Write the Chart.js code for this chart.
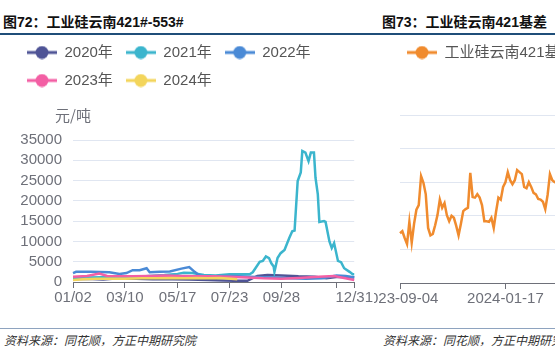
<!DOCTYPE html>
<html><head><meta charset="utf-8">
<script src="https://cdn.jsdelivr.net/npm/chart.js@4/dist/chart.umd.min.js"></script>
<style>
html,body{margin:0;padding:0;width:555px;height:353px;overflow:hidden;background:#fff;}
#wrap{position:relative;width:555px;height:353px;overflow:hidden;font-family:"Liberation Sans","Noto Sans CJK SC",sans-serif;}
#leftPane{position:absolute;left:0;top:0;width:374px;height:353px;background:#fff;z-index:2;}
.title{position:absolute;top:14px;font-size:14px;font-weight:bold;line-height:16px;color:#111;white-space:nowrap;}
.src{position:absolute;top:333px;font-size:12px;font-style:italic;line-height:14px;color:#333;white-space:nowrap;font-family:"Noto Sans CJK SC",sans-serif;}
.rule{position:absolute;left:0;width:555px;z-index:3;}
canvas{position:absolute;}
</style></head>
<body><div id="wrap">
<div id="leftPane">
  <div class="title" style="left:3px">图72：工业硅云南421#-553#</div>
  <canvas id="c1" width="374" height="278" style="left:0;top:32px"></canvas>
  <div class="src" style="left:4px">资料来源：同花顺，方正中期研究院</div>
</div>
<div class="title" style="left:382px">图73：工业硅云南421基差</div>
<canvas id="c2" width="204" height="278" style="left:360px;top:32px;z-index:1"></canvas>
<div class="src" style="left:383px">资料来源：同花顺，方正中期研究院</div>
<div class="rule" style="top:33px;height:2px;background:#1f4e79"></div>
<div class="rule" style="top:328px;height:1px;background:#8ea3bf"></div>
</div>
<script>
// ---------- left chart data (元/吨) ----------
const UNIT = '元/吨';
const LEFT_TICK_DATES = ['01/02','03/10','05/17','07/23','09/28','12/08','12/31'];
const LEFT_HIDDEN_TICKS = ['12/08'];

const D2020 = ['01/02','01/20','02/10','03/01','03/25','04/15','05/10','06/01','06/25','07/15','07/30','08/15','08/28','09/10','09/28','10/20','11/10','11/25','12/10','12/31'];
const V2020 = [700,800,600,900,800,700,700,600,500,400,300,300,1500,1700,1600,1400,1300,900,1300,1200];

const D2021 = ['01/02','01/20','02/10','03/01','03/20','04/10','04/30','05/17','05/25','06/05','06/20','07/05','07/23','08/05','08/18','08/22','08/31','09/04','09/08','09/12','09/15','09/18','09/19','09/23','09/27','10/02','10/08','10/12','10/15','10/19','10/23','10/25','10/29','11/02','11/05','11/09','11/11','11/14','11/16','11/22','11/24','11/29','12/02','12/05','12/10','12/14','12/18','12/25','12/29','12/31'];
const V2021 = [1000,1100,1200,1300,1200,1500,1700,2000,2300,2200,1700,1600,1900,1900,1900,2400,5000,5200,6300,5900,4600,3800,2500,5900,7100,7900,10800,12500,12700,24900,27000,32300,31900,29800,31900,31900,25700,21600,14800,15000,14800,10000,8400,9600,5200,4900,3400,2500,1900,1900];

const D2022 = ['01/02','01/06','01/25','02/18','03/03','03/12','03/20','03/29','04/07','04/11','04/24','05/07','05/22','06/01','06/08','06/14','06/27','07/10','07/27','08/18','09/03','09/20','10/10','10/30','11/20','12/08','12/20','12/31'];
const V2022 = [2200,2500,2500,2400,2000,2200,2900,2900,3400,2400,2500,2600,3300,3700,2500,1600,1200,1500,1500,1300,1200,1100,900,800,900,1600,1500,1100];

const D2023 = ['01/02','01/20','02/05','02/15','03/01','03/20','04/10','04/30','05/20','06/10','07/01','07/23','08/15','09/05','09/28','10/20','11/15','12/05','12/18','12/31'];
const V2023 = [1300,1500,2100,1500,1400,1400,1500,1600,1500,1400,1400,1300,1100,900,800,1000,1300,1500,1000,500];

const D2024 = ['01/02','01/15','02/01','02/20','03/10','04/01','04/20','05/10','05/25','06/10','06/25','07/10','07/25','08/02'];
const V2024 = [500,700,800,800,800,900,900,1000,900,1000,900,1000,800,700];

// ---------- right chart data (基差) ----------
const RIGHT_START = [2023, 8, 4];   // 2023-09-04
const RIGHT_STEP_DAYS = 3;
const RIGHT_TICK_DATES = ['2023-09-04','2024-01-17'];
const RIGHT_VALUES = [740,770,670,580,910,600,880,1090,1160,1590,1490,1320,820,710,730,860,1010,1240,1120,1190,1010,920,1000,970,850,710,880,1070,1100,1120,1640,1280,1270,1320,1270,1160,920,920,910,970,820,1060,1270,1240,1430,1500,1650,1530,1470,1530,1680,1650,1620,1430,1410,1500,1430,1340,1320,1250,1240,1210,1100,1310,1620,1530,1500,1490,1460,1510,1480];

// ---------- helpers ----------
function pad2(n){return String(n).padStart(2,'0');}
function leftLabels(){
  const out=[]; const s=Date.UTC(2023,0,2), e=Date.UTC(2023,11,31);
  for(let t=s;t<=e;t+=86400000){const d=new Date(t);out.push(pad2(d.getUTCMonth()+1)+'/'+pad2(d.getUTCDate()));}
  return out;
}
function rightLabels(n){
  const out=[];
  for(let i=0;i<n;i++){const d=new Date(Date.UTC(RIGHT_START[0],RIGHT_START[1],RIGHT_START[2]+i*RIGHT_STEP_DAYS));out.push(d.toISOString().slice(0,10));}
  return out;
}
function pts(ds,vs){return ds.map((d,i)=>({x:d,y:vs[i]}));}
function marker(color){
  const c=document.createElement('canvas');c.width=30;c.height=14;
  const x=c.getContext('2d');x.strokeStyle=color;x.lineWidth=3;
  x.beginPath();x.moveTo(0,7);x.lineTo(30,7);x.stroke();
  x.fillStyle=color;x.beginPath();x.arc(15,7,6.5,0,Math.PI*2);x.fill();
  return c;
}
const legendSpacer = extra => ({id:'legendSpacer',beforeInit(chart){const orig=chart.legend.fit;chart.legend.fit=function(){orig.call(this);this.height+=extra;};}});
const unitLabel = {id:'unitLabel',afterDraw(chart){const {ctx,chartArea}=chart;ctx.save();ctx.font='15px "Noto Sans CJK SC", sans-serif';ctx.fillStyle='#6e7079';ctx.textAlign='center';ctx.textBaseline='middle';ctx.fillText(UNIT,chartArea.left,chartArea.top-25);ctx.restore();}};

Chart.defaults.font.family='"Liberation Sans","Noto Sans CJK SC",sans-serif';
Chart.defaults.font.size=15;
Chart.defaults.color='#6e7079';

const COLORS=['#4f5496','#3bb5cd','#4a8ad6','#f35fa4','#f3d55b'];
const NAMES=['2020年','2021年','2022年','2023年','2024年'];
const SERIES=[pts(D2020,V2020),pts(D2021,V2021),pts(D2022,V2022),pts(D2023,V2023),pts(D2024,V2024)];
const MARKERS=COLORS.map(marker);

function legendOpts(markers){
  return {position:'top',align:'start',labels:{usePointStyle:true,pointStyleWidth:30,padding:13,color:'#555',font:{size:15},
    generateLabels(chart){const items=Chart.defaults.plugins.legend.labels.generateLabels(chart);items.forEach(it=>{it.pointStyle=markers[it.datasetIndex];});return items.sort((a,b)=>a.datasetIndex-b.datasetIndex);}}};
}

new Chart(document.getElementById('c1'),{
  type:'line',
  data:{labels:leftLabels(),datasets:SERIES.map((d,i)=>({label:NAMES[i],data:d,borderColor:COLORS[i],backgroundColor:COLORS[i],borderWidth:2.5,pointRadius:0,tension:0,order:5-i}))},
  options:{responsive:false,animation:false,devicePixelRatio:1,
    layout:{padding:{left:14,right:19,top:0,bottom:2}},
    plugins:{legend:legendOpts(MARKERS),tooltip:{enabled:false}},
    scales:{
      x:{type:'category',
        afterBuildTicks(scale){const L=scale.getLabels();scale.ticks=LEFT_TICK_DATES.map(d=>({value:L.indexOf(d)}));},
        ticks:{autoSkip:false,maxRotation:0,padding:1,color:'#6e7079',callback(v){const l=this.getLabelForValue(v);return LEFT_HIDDEN_TICKS.includes(l)?'':l;}},
        grid:{display:true,drawOnChartArea:false,drawTicks:true,tickLength:6,color:'#6e7079'},
        border:{display:true,color:'#6e7079',width:1}},
      y:{min:0,max:35000,afterFit(s){s.width=59;},
        ticks:{stepSize:5000,autoSkip:false,padding:11,color:'#6e7079',callback:v=>String(v)},
        grid:{color:'#e0e6f1',drawTicks:false},border:{display:false}}
    }},
  plugins:[legendSpacer(42),unitLabel]
});

const RMARK=[marker('#f08b2e')];
const RL=rightLabels(RIGHT_VALUES.length);
new Chart(document.getElementById('c2'),{
  type:'line',
  data:{labels:RL,datasets:[{label:'工业硅云南421基差',data:RIGHT_VALUES,borderColor:'#f08b2e',backgroundColor:'#f08b2e',borderWidth:2.5,pointRadius:0,tension:0}]},
  options:{responsive:false,animation:false,devicePixelRatio:1,
    layout:{padding:{left:34,right:0,top:0,bottom:1}},
    plugins:{legend:legendOpts(RMARK),tooltip:{enabled:false}},
    scales:{
      x:{type:'category',
        afterBuildTicks(scale){const L=scale.getLabels();scale.ticks=RIGHT_TICK_DATES.map(d=>({value:L.indexOf(d)}));},
        ticks:{autoSkip:false,maxRotation:0,padding:1,color:'#6e7079'},
        grid:{display:true,drawOnChartArea:false,drawTicks:true,tickLength:6,color:'#6e7079'},
        border:{display:true,color:'#6e7079',width:1}},
      y:{min:0,max:2500,afterFit(s){s.width=6;},
        ticks:{stepSize:500,autoSkip:false,display:false},
        grid:{color:'#e0e6f1',drawTicks:false},border:{display:false}}
    }},
  plugins:[legendSpacer(45)]
});
</script>
</body></html>
